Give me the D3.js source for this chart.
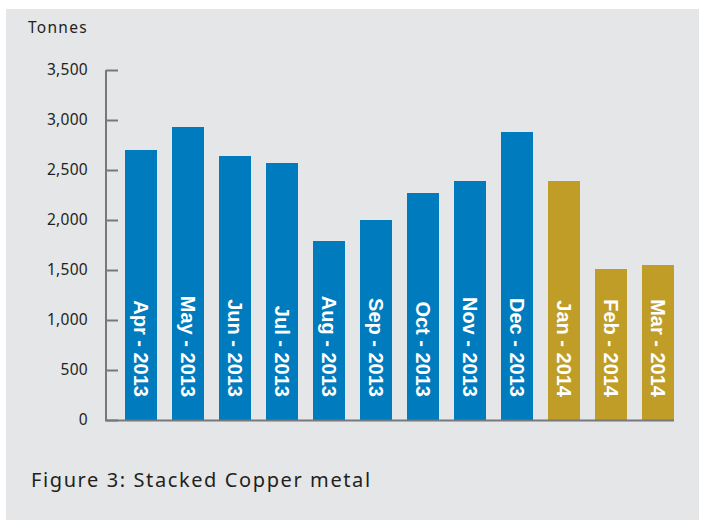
<!DOCTYPE html>
<html>
<head>
<meta charset="utf-8">
<script src="https://cdn.jsdelivr.net/npm/d3@7"></script>
<style>
	body { margin: 0; background: #fff; }
</style>
</head>
<body>
<div id="chart"></div>
<script>
// Monthly stacked copper metal (tonnes)
const months = ["Apr - 2013", "May - 2013", "Jun - 2013", "Jul - 2013", "Aug - 2013", "Sep - 2013",
	"Oct - 2013", "Nov - 2013", "Dec - 2013", "Jan - 2014", "Feb - 2014", "Mar - 2014"];
const tonnes = [2700, 2930, 2640, 2570, 1790, 2000, 2270, 2390, 2880, 2390, 1510, 1550];
const years = ["2013", "2013", "2013", "2013", "2013", "2013", "2013", "2013", "2013", "2014", "2014", "2014"];
const yTicks = [0, 500, 1000, 1500, 2000, 2500, 3000, 3500];

const width = 701;
const height = 522;
const textFont = "'Noto Sans', 'DejaVu Sans', sans-serif";

const svg = d3.select("#chart")
	.append("svg")
	.attr("width", width)
	.attr("height", height);

// grey panel
svg.append("rect")
	.attr("x", 6).attr("y", 9)
	.attr("width", 693).attr("height", 511)
	.attr("fill", "#e5e6e8");

const x = d3.scaleBand()
	.domain(months)
	.range([117.5, 681.5])
	.paddingInner(15 / 47)
	.paddingOuter(7.5 / 47);

const y = d3.scaleLinear()
	.domain([0, 3500])
	.range([420, 70]);

const color = d3.scaleOrdinal()
	.domain(["2013", "2014"])
	.range(["#007bbd", "#bf9d27"]);

// y axis
const yAxis = svg.append("g")
	.attr("transform", "translate(106,0)")
	.call(d3.axisRight(y).tickValues(yTicks).tickSize(12).tickFormat(""));
yAxis.select(".domain").remove();
yAxis.selectAll(".tick line").attr("stroke", "#77787b").attr("stroke-width", 2);

svg.append("line")
	.attr("x1", 106).attr("x2", 106)
	.attr("y1", y(3500)).attr("y2", y(0) + 1)
	.attr("stroke", "#77787b")
	.attr("stroke-width", 2);

svg.append("g")
	.selectAll("text")
	.data(yTicks)
	.enter()
	.append("text")
	.attr("x", 88)
	.attr("y", d => y(d))
	.attr("dy", "0.35em")
	.attr("text-anchor", "end")
	.style("font-family", textFont)
	.style("font-size", "15.5px")
	.style("letter-spacing", "0.3px")
	.attr("fill", "#231f20")
	.text(d => d3.format(",")(d));

svg.append("text")
	.attr("x", 88)
	.attr("y", 33)
	.attr("text-anchor", "end")
	.style("font-family", textFont)
	.style("font-size", "15.5px")
	.style("letter-spacing", "1.3px")
	.attr("fill", "#231f20")
	.text("Tonnes");

// bars
svg.append("g")
	.selectAll("rect")
	.data(months)
	.enter()
	.append("rect")
	.attr("x", d => x(d))
	.attr("y", (d, i) => y(tonnes[i]))
	.attr("width", x.bandwidth())
	.attr("height", (d, i) => y(0) - y(tonnes[i]))
	.attr("fill", (d, i) => color(years[i]));

// x axis line
svg.append("line")
	.attr("x1", 105).attr("x2", x(months[months.length - 1]) + x.bandwidth())
	.attr("y1", 420.5).attr("y2", 420.5)
	.attr("stroke", "#77787b")
	.attr("stroke-width", 2);

// rotated month labels inside bars
svg.append("g")
	.selectAll("text")
	.data(months)
	.enter()
	.append("text")
	.attr("transform", d => `translate(${x(d) + x.bandwidth() / 2},397) rotate(90)`)
	.attr("text-anchor", "end")
	.attr("dy", "0.36em")
	.style("font-family", "'Liberation Sans', Arial, sans-serif")
	.style("font-weight", "bold")
	.style("font-size", "20px")
	.attr("fill", "#fff")
	.text(d => d);

// caption
svg.append("text")
	.attr("x", 31)
	.attr("y", 487)
	.style("font-family", textFont)
	.style("font-size", "20px")
	.style("letter-spacing", "1.6px")
	.attr("fill", "#231f20")
	.text("Figure 3: Stacked Copper metal");
</script>
</body>
</html>
